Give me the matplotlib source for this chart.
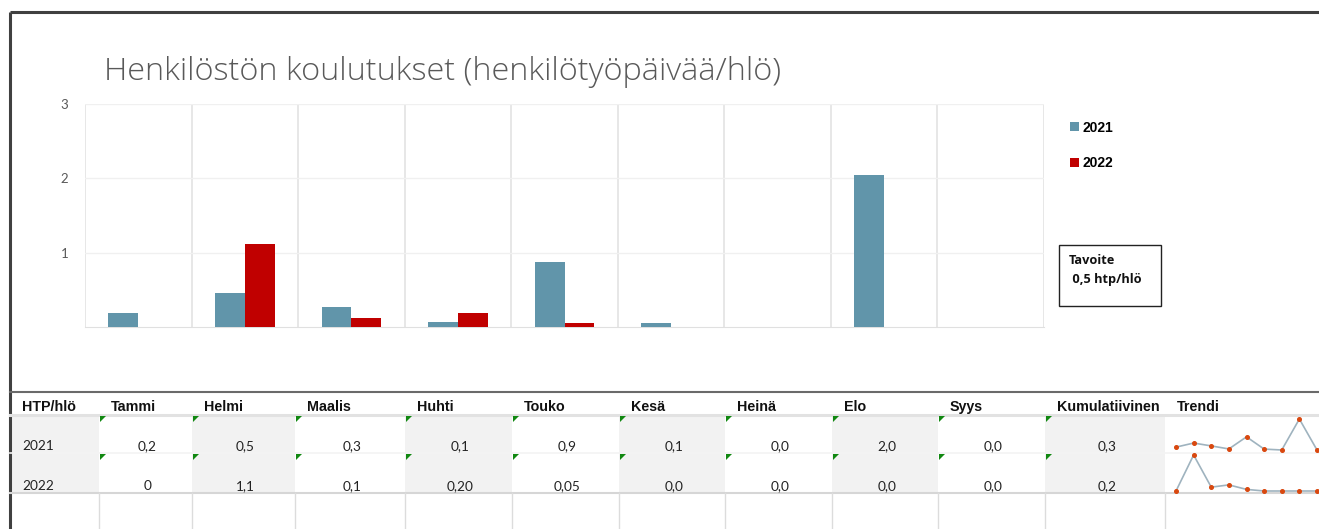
import numpy as np
import matplotlib
matplotlib.use("Agg")
import matplotlib.pyplot as plt
from matplotlib.patches import Rectangle, Polygon

# --- data ---
months = ["Tammi", "Helmi", "Maalis", "Huhti", "Touko", "Kesä", "Heinä", "Elo", "Syys"]
v2021 = [0.19, 0.46, 0.27, 0.07, 0.87, 0.06, 0.0, 2.05, 0.0]
v2022 = [0.0, 1.12, 0.12, 0.19, 0.05, 0.0, 0.0, 0.0, 0.0]
years = ["2021", "2022"]
headers = ["HTP/hlö"] + months + ["Kumulatiivinen", "Trendi"]
txt2021 = ["0,2", "0,5", "0,3", "0,1", "0,9", "0,1", "0,0", "2,0", "0,0", "0,3"]
txt2022 = ["0", "1,1", "0,1", "0,20", "0,05", "0,0", "0,0", "0,0", "0,0", "0,2"]
title = "Henkilöstön koulutukset (henkilötyöpäivää/hlö)"
target_txt = "Tavoite\n 0,5 htp/hlö"

C21 = "#6195aa"
C22 = "#c00000"
GREY_TXT = "#595959"

W, H = 1319, 529
fig = plt.figure(figsize=(W / 100, H / 100), dpi=100)

# background axes in pixel units for the sheet / table
bg = fig.add_axes([0, 0, 1, 1])
bg.set_xlim(0, W)
bg.set_ylim(H, 0)
bg.axis("off")

# sheet frame
bg.plot([9.5, 9.5], [12, H], color="#404040", lw=2.2, solid_capstyle="butt")
bg.plot([9.5, W], [12, 12], color="#404040", lw=2.2, solid_capstyle="butt")

# --- chart ---
ax = fig.add_axes([85 / W, 1 - 327 / H, (1044 - 85) / W, (327 - 104) / H])
x = np.arange(len(months))
bw = 0.28
ax.bar(x - bw / 2, v2021, bw, color=C21, label="2021", zorder=3)
ax.bar(x + bw / 2, v2022, bw, color=C22, label="2022", zorder=3)
ax.set_xlim(-0.5, len(months) - 0.5)
ax.set_ylim(0, 3)
ax.set_yticks([1, 2, 3])
ax.set_xticks([])
ax.set_xticks(np.arange(len(months) + 1) - 0.5, minor=True)
ax.grid(axis="y", color="#f0f0f0", lw=1, zorder=0)
ax.grid(axis="x", which="minor", color="#e3e3e3", lw=1.2, zorder=0)
ax.tick_params(axis="y", length=0, pad=12, labelsize=9.5, labelcolor=GREY_TXT)
ax.tick_params(axis="x", which="both", length=0)
for lab in ax.get_yticklabels():
    lab.set_fontfamily("Lato")
for s in ["top", "right", "left"]:
    ax.spines[s].set_visible(False)
ax.spines["bottom"].set_color("#e0e0e0")

fig.text(104 / W, 1 - 80 / H, title, fontsize=23.4, color=GREY_TXT,
         family="Open Sans", fontweight="light", va="baseline")

leg = ax.legend(loc="upper left", bbox_to_anchor=(1057 / W, 1 - 108 / H),
                bbox_transform=fig.transFigure, frameon=False,
                handlelength=0.65, handleheight=0.65, handletextpad=0.3,
                labelspacing=1.55, prop={"family": "Liberation Sans",
                                         "weight": "bold", "size": 10})

# target box
bg.add_patch(Rectangle((1059, 245), 102, 61, fill=False, ec="#222222", lw=1))
bg.text(1069, 254, target_txt, fontsize=9.2, fontweight="bold", family="Open Sans",
        va="top", linespacing=1.65, color="#111111")

# --- table ---
edges = [10, 99, 192, 295, 405, 512, 619, 725, 832, 938, 1045, 1165, W]
y_head, y_r1, y_r2, y_r3 = 392, 415, 453, 493

for i in range(0, len(edges) - 2, 2):
    bg.add_patch(Rectangle((edges[i], y_r1), edges[i + 1] - edges[i], y_r3 - y_r1,
                           color="#f2f2f2", lw=0, zorder=0))

bg.plot([10, W], [y_head, y_head], color="#6a6a6a", lw=1.5)
bg.plot([10, W], [y_r1, y_r1], color="#e2e2e2", lw=2.2)
bg.plot([10, W], [y_r2, y_r2], color="#f4f4f4", lw=1.2)
bg.plot([10, W], [y_r3, y_r3], color="#d6d6d6", lw=1.5)
for e in edges[1:-1]:
    bg.plot([e, e], [y_r3, H], color="#dcdcdc", lw=1)

for i, h in enumerate(headers):
    bg.text(edges[i] + 12, 411, h, fontsize=10.3, fontweight="bold",
            family="Liberation Sans", va="baseline", color="#111111")

for row, (yr, vals, yb) in enumerate(zip(years, [txt2021, txt2022], [450, 490])):
    bg.text(22, yb, yr, fontsize=9.8, family="Lato", va="baseline", color="#222222")
    for j, t in enumerate(vals):
        cx = (edges[j + 1] + edges[j + 2]) / 2 + 2
        bg.text(cx, yb, t, fontsize=9.8, family="Lato", ha="center",
                va="baseline", color="#222222")
        ytop = y_r1 + 1 if row == 0 else y_r2 + 1
        xl = edges[j + 1] + 1
        bg.add_patch(Polygon([(xl, ytop), (xl + 6, ytop), (xl, ytop + 6)],
                             closed=True, color="#118811", lw=0, zorder=4))

# sparklines
for series, (top, bot) in zip([v2021, v2022], [(419, 450), (455, 491)]):
    sp = fig.add_axes([1176 / W, 1 - bot / H, (1317 - 1176) / W, (bot - top) / H])
    sp.plot(np.arange(len(series)), series, color="#9fb3bf", lw=1.2,
            marker="o", ms=2.6, mfc="#d9480f", mec="#d9480f", clip_on=False)
    sp.set_xlim(0, len(series) - 1)
    sp.set_ylim(min(series), max(series))
    sp.axis("off")

fig.savefig("out.png", dpi=100)
